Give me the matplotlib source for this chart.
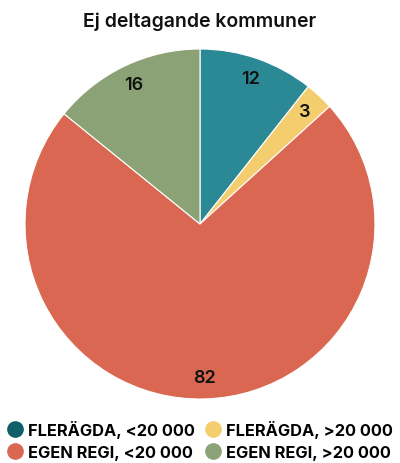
import matplotlib
matplotlib.use('Agg')
from matplotlib import pyplot as plt
from matplotlib.lines import Line2D

labels = ['FLERÄGDA, <20 000', 'FLERÄGDA, >20 000', 'EGEN REGI, <20 000', 'EGEN REGI, >20 000']
values = [12, 3, 82, 16]
slice_colors = ['#2b8996', '#f4cd6f', '#d96752', '#8ba277']
legend_colors = ['#0f5f68', '#f4cd6f', '#d96752', '#8ba277']

plt.rcParams['font.family'] = ['Inter', 'DejaVu Sans']

fig = plt.figure(figsize=(4, 4.64), dpi=100)
ax = fig.add_axes([25 / 400, 64 / 464, 350 / 400, 350 / 464])
wedges, texts = ax.pie(values, colors=slice_colors, startangle=90, counterclock=False,
                       labels=[str(v) for v in values], labeldistance=0.88,
                       wedgeprops=dict(edgecolor='white', linewidth=0.8),
                       textprops=dict(fontsize=13, fontweight='semibold', color='#111111'))
for t in texts:
    t.set_ha('center')
    t.set_va('center')
ax.set_xlim(-1, 1)
ax.set_ylim(-1, 1)
ax.set_aspect('equal')

fig.text(0.5, 1 - 22 / 464, 'Ej deltagande kommuner', ha='center', va='center',
         fontsize=14, fontweight='semibold', color='#111111')

handles = [Line2D([], [], marker='o', linestyle='', markersize=11, color=c) for c in legend_colors]
order = [0, 2, 1, 3]
fig.legend([handles[i] for i in order], [labels[i] for i in order], ncol=2,
           loc='lower center', bbox_to_anchor=(0.5, -0.008), frameon=False,
           prop=dict(size=11.8, weight='bold'), handletextpad=0.3, columnspacing=0.6,
           handlelength=1.0, labelspacing=0.45, borderaxespad=0)

fig.savefig('out.png', dpi=100)
